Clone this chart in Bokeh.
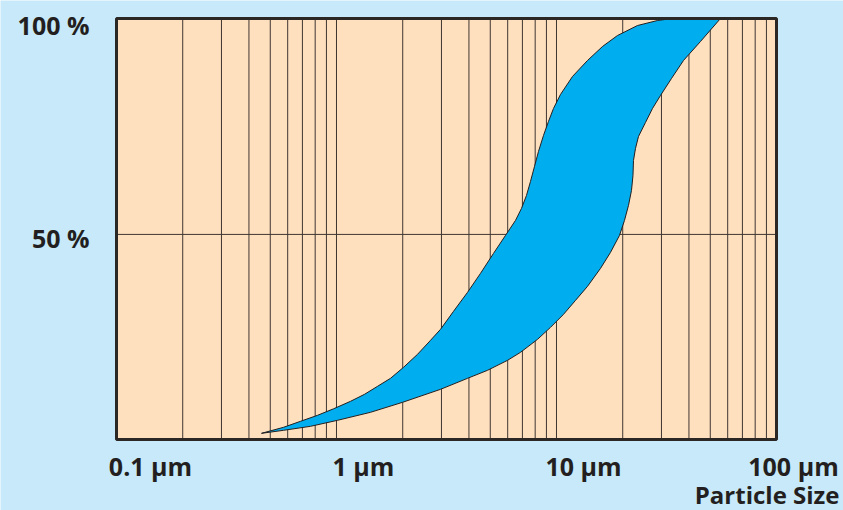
from bokeh.plotting import figure
from bokeh.models import Range1d, ColumnDataSource
from bokeh.core.properties import value
from bokeh.embed import file_html
from bokeh.resources import INLINE

# ---- Data (particle size in µm, cumulative %) ----
upper_x = [0.4561, 0.5742, 0.6860, 0.8197, 0.9691, 1.1579, 1.3405, 1.5359, 1.7598, 2.0163,
           2.3344, 2.6747, 2.9698, 3.4026, 3.9396, 4.5138, 5.1718, 5.8638, 6.5109, 6.9328,
           7.3054, 7.6177, 7.9433, 8.2828, 8.7279, 9.1969, 9.6908, 10.4275, 11.823, 13.833,
           16.184, 18.935, 23.344, 28.78, 33.672]
upper_y = [3.935, 5.324, 6.713, 8.102, 9.606, 11.343, 12.963, 14.815, 16.667, 19.213,
           22.222, 25.463, 28.009, 32.176, 36.574, 40.972, 45.602, 49.769, 53.241, 56.019,
           59.028, 62.269, 65.741, 69.213, 72.917, 76.157, 79.167, 82.407, 86.574, 90.278,
           93.519, 96.065, 98.380, 99.537, 100.0]
lower_x = [0.4561, 0.5742, 0.7617, 1.0105, 1.4270, 1.9953, 2.9698, 3.9396, 4.8569, 5.9878,
           6.8605, 8.1967, 9.3914, 10.760, 12.201, 13.833, 15.849, 17.598, 19.336, 20.375,
           21.246, 21.924, 22.271, 22.387, 22.861, 23.590, 25.383, 27.312, 29.698, 33.322,
           37.781, 45.138, 55.648]
lower_y = [3.935, 4.630, 5.556, 6.944, 8.796, 11.111, 14.120, 16.667, 18.519, 20.833,
           22.685, 25.694, 28.472, 31.481, 34.722, 37.963, 42.130, 45.833, 49.769, 53.241,
           56.713, 60.185, 63.657, 67.130, 69.907, 72.685, 75.926, 79.167, 82.176, 86.111,
           90.278, 94.676, 100.0]

major_ticks = [0.1, 1, 10, 100]
minor_ticks = [0.2, 0.3, 0.4, 0.5, 0.6, 0.7, 0.8, 0.9,
               2, 3, 4, 5, 6, 7, 8, 9,
               20, 30, 40, 50, 60, 70, 80, 90]
x_tick_labels = ["0.1 µm", "1 µm", "10 µm", "100 µm"]
y_ticks = [50, 100]
y_tick_labels = ["50 %", "100 %"]
x_title = "Particle Size"

# chart area limits
X_MIN, X_MAX = 0.1, 100
Y_MIN, Y_MAX = 2.5, 100

# ---- styling ----
TXT = "#231f20"
FONT = "Open Sans"
FS = "25px"
BG = "#c7e9f9"
PEACH = "#fee0bf"
GRID = "#3f3631"
BAND = "#00adee"

p = figure(width=843, height=510, x_axis_type="log",
           x_range=Range1d(0.02970, 201.63), y_range=Range1d(-13.94, 104.17),
           x_axis_location=None, y_axis_location=None,
           output_backend="svg", toolbar_location=None,
           min_border=0)
p.grid.visible = False
p.background_fill_color = BG
p.border_fill_color = BG
p.outline_line_color = None

# plot area
p.quad(left=[X_MIN], right=[X_MAX], bottom=[Y_MIN], top=[Y_MAX],
       fill_color=PEACH, line_color=None)

# vertical grid lines (log decades with minor divisions)
vx = minor_ticks + major_ticks[1:-1]
p.segment(x0=vx, y0=[Y_MIN] * len(vx), x1=vx, y1=[Y_MAX] * len(vx),
          line_color=GRID, line_width=1)
# horizontal 50 % line
p.segment(x0=[X_MIN], y0=[y_ticks[0]], x1=[X_MAX], y1=[y_ticks[0]],
          line_color=GRID, line_width=1)

# band between the two curves
band_x = upper_x + lower_x[::-1]
band_y = upper_y + lower_y[::-1]
p.patch(band_x, band_y, fill_color=BAND, line_color="#231f20", line_width=1)

# frame border
p.quad(left=[X_MIN], right=[X_MAX], bottom=[Y_MIN], top=[Y_MAX],
       fill_color=None, line_color="#2b2725", line_width=3)

# x tick labels
xsrc = ColumnDataSource(dict(x=major_ticks, y=[Y_MIN] * len(major_ticks),
                             text=x_tick_labels, dx=[34, 27, 27, 17]))
p.text(x="x", y="y", text="text", x_offset="dx", y_offset=26, source=xsrc,
       text_align="center", text_baseline="middle",
       text_font=value(FONT), text_font_style="bold",
       text_font_size=FS, text_color=TXT)

# y tick labels
ysrc = ColumnDataSource(dict(x=[X_MIN] * len(y_ticks), y=y_ticks,
                             text=y_tick_labels, dy=[4, 6]))
p.text(x="x", y="y", text="text", x_offset=-27, y_offset="dy", source=ysrc,
       text_align="right", text_baseline="middle",
       text_font=value(FONT), text_font_style="bold",
       text_font_size=FS, text_color=TXT)

# axis title
p.text(x=[X_MAX], y=[Y_MIN], text=[x_title], x_offset=63, y_offset=55,
       text_align="right", text_baseline="middle",
       text_font=value(FONT), text_font_style="bold",
       text_font_size="24px", text_color=TXT)

open("out.html", "w").write(file_html(p, INLINE))
